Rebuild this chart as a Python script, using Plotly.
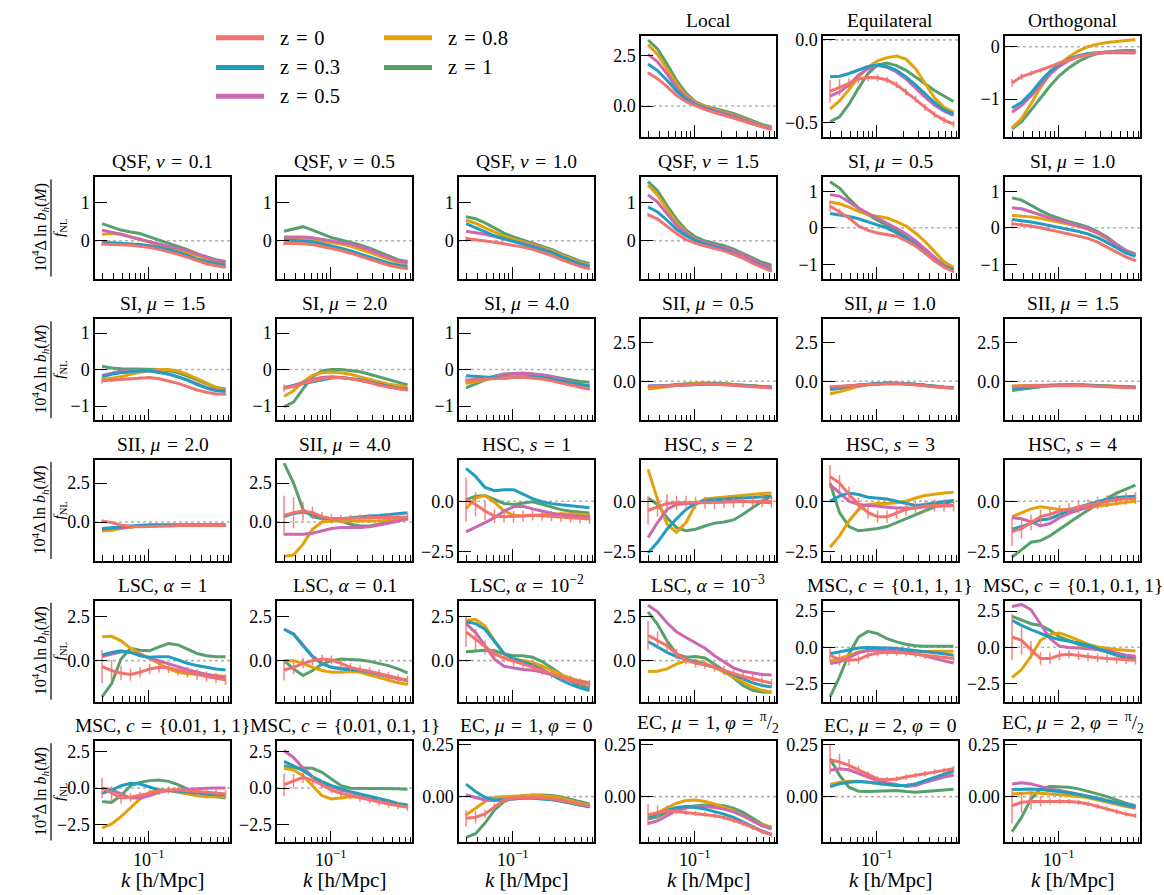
import plotly.graph_objects as go

W, H = 1164, 895
FONT = "Liberation Serif"
EQ = "\u2004=\u2004"

# ---------------- data ----------------
K = [0.0295, 0.0378, 0.0484, 0.0620, 0.0795, 0.1019, 0.1305, 0.1672,
     0.2143, 0.2746, 0.3518, 0.4508, 0.5776, 0.7401]

Z_LABELS = ["z = 0", "z = 0.3", "z = 0.5", "z = 0.8", "z = 1"]
Z_COLORS = ["#F2726D", "#1F9EC0", "#CC67B1", "#E3A20A", "#56A06C"]

X_MINOR = [0.03, 0.04, 0.05, 0.06, 0.07, 0.08, 0.09, 0.2, 0.3, 0.4, 0.5, 0.6, 0.7, 0.8]

# each panel: series for z = 0, 0.3, 0.5, 0.8, 1 ; plus error bars on z = 0
LOCAL = [
    [1.64, 1.35, 0.96, 0.53, 0.21, 0.00, -0.18, -0.32, -0.46, -0.61, -0.75, -0.91, -1.05, -1.16],
    [2.07, 1.75, 1.27, 0.75, 0.33, 0.05, -0.13, -0.27, -0.41, -0.56, -0.72, -0.88, -1.03, -1.15],
    [2.55, 2.18, 1.59, 0.91, 0.43, 0.11, -0.08, -0.21, -0.35, -0.49, -0.67, -0.83, -0.99, -1.11],
    [3.03, 2.55, 1.83, 1.08, 0.53, 0.16, -0.03, -0.18, -0.30, -0.45, -0.64, -0.80, -0.97, -1.08],
    [3.26, 2.82, 2.07, 1.27, 0.64, 0.21, 0.00, -0.11, -0.24, -0.37, -0.56, -0.72, -0.91, -1.03]]
LOCAL_ERR = [0.04, 0.03, 0.03, 0.02, 0.02, 0.02, 0.02, 0.02, 0.02, 0.02, 0.02, 0.02, 0.02, 0.02]

EQUIL = [
    [-0.310, -0.287, -0.262, -0.236, -0.227, -0.229, -0.242, -0.271, -0.314, -0.359, -0.407, -0.450, -0.484, -0.508],
    [-0.223, -0.219, -0.203, -0.180, -0.161, -0.151, -0.161, -0.184, -0.223, -0.271, -0.326, -0.378, -0.422, -0.446],
    [-0.339, -0.314, -0.271, -0.213, -0.174, -0.155, -0.165, -0.194, -0.236, -0.291, -0.345, -0.393, -0.430, -0.455],
    [-0.417, -0.368, -0.300, -0.223, -0.165, -0.126, -0.107, -0.097, -0.116, -0.174, -0.262, -0.349, -0.407, -0.436],
    [-0.494, -0.465, -0.388, -0.291, -0.203, -0.151, -0.140, -0.155, -0.184, -0.223, -0.267, -0.306, -0.339, -0.372]]
EQUIL_ERR = [0.068, 0.050, 0.030, 0.025, 0.022, 0.020, 0.020, 0.020, 0.020, 0.020, 0.020, 0.020, 0.020, 0.020]

ORTHO = [
    [-0.69, -0.57, -0.51, -0.45, -0.38, -0.31, -0.25, -0.19, -0.15, -0.12, -0.10, -0.10, -0.10, -0.10],
    [-1.17, -1.06, -0.88, -0.66, -0.47, -0.33, -0.23, -0.17, -0.13, -0.11, -0.10, -0.10, -0.10, -0.10],
    [-1.25, -1.12, -0.94, -0.72, -0.52, -0.37, -0.26, -0.19, -0.15, -0.12, -0.11, -0.11, -0.11, -0.12],
    [-1.55, -1.37, -1.09, -0.78, -0.52, -0.33, -0.19, -0.08, 0.00, 0.05, 0.08, 0.10, 0.12, 0.14],
    [-1.57, -1.43, -1.21, -0.98, -0.75, -0.55, -0.40, -0.28, -0.19, -0.13, -0.10, -0.08, -0.07, -0.07]]
ORTHO_ERR = [0.08, 0.06, 0.05, 0.04, 0.035, 0.03, 0.03, 0.03, 0.02, 0.02, 0.02, 0.02, 0.02, 0.02]

QSF01 = [
    [-0.09, -0.10, -0.10, -0.12, -0.15, -0.18, -0.23, -0.29, -0.36, -0.44, -0.53, -0.61, -0.66, -0.70],
    [-0.04, -0.05, -0.06, -0.08, -0.10, -0.13, -0.17, -0.23, -0.30, -0.39, -0.48, -0.55, -0.61, -0.65],
    [0.28, 0.23, 0.17, 0.10, 0.04, -0.03, -0.09, -0.14, -0.20, -0.27, -0.35, -0.43, -0.52, -0.57],
    [0.17, 0.19, 0.17, 0.10, 0.04, -0.03, -0.09, -0.16, -0.23, -0.30, -0.39, -0.48, -0.57, -0.62],
    [0.45, 0.37, 0.28, 0.23, 0.19, 0.10, 0.02, -0.07, -0.16, -0.24, -0.35, -0.43, -0.50, -0.55]]
QSF01_ERR = [0.05, 0.04, 0.03, 0.03, 0.02, 0.02, 0.02, 0.02, 0.02, 0.02, 0.02, 0.02, 0.02, 0.02]

QSF05 = [
    [-0.07, -0.07, -0.08, -0.10, -0.15, -0.20, -0.26, -0.33, -0.41, -0.50, -0.58, -0.65, -0.70, -0.74],
    [0.02, 0.01, -0.01, -0.03, -0.08, -0.13, -0.20, -0.27, -0.35, -0.43, -0.52, -0.59, -0.65, -0.68],
    [0.10, 0.10, 0.10, 0.08, 0.04, 0.00, -0.04, -0.09, -0.16, -0.24, -0.35, -0.44, -0.53, -0.57],
    [0.04, 0.04, 0.03, 0.02, -0.01, -0.04, -0.09, -0.14, -0.22, -0.30, -0.40, -0.49, -0.57, -0.62],
    [0.25, 0.32, 0.37, 0.28, 0.17, 0.08, 0.02, -0.04, -0.11, -0.20, -0.30, -0.42, -0.50, -0.55]]
QSF05_ERR = [0.05, 0.04, 0.03, 0.03, 0.02, 0.02, 0.02, 0.02, 0.02, 0.02, 0.02, 0.02, 0.02, 0.02]

QSF10 = [
    [0.06, 0.03, 0.00, -0.04, -0.08, -0.12, -0.17, -0.23, -0.30, -0.39, -0.50, -0.60, -0.68, -0.74],
    [0.45, 0.34, 0.23, 0.13, 0.05, -0.02, -0.08, -0.15, -0.22, -0.31, -0.42, -0.53, -0.62, -0.68],
    [0.25, 0.22, 0.17, 0.11, 0.05, 0.00, -0.06, -0.13, -0.21, -0.30, -0.41, -0.52, -0.61, -0.67],
    [0.54, 0.46, 0.34, 0.22, 0.12, 0.04, -0.03, -0.10, -0.18, -0.27, -0.38, -0.49, -0.58, -0.64],
    [0.63, 0.58, 0.47, 0.33, 0.20, 0.10, 0.02, -0.06, -0.14, -0.23, -0.34, -0.45, -0.54, -0.60]]
QSF10_ERR = [0.05, 0.04, 0.03, 0.03, 0.02, 0.02, 0.02, 0.02, 0.02, 0.02, 0.02, 0.02, 0.02, 0.02]

QSF15 = [
    [0.69, 0.57, 0.38, 0.19, 0.03, -0.07, -0.14, -0.20, -0.27, -0.36, -0.46, -0.59, -0.70, -0.81],
    [0.89, 0.76, 0.54, 0.30, 0.13, 0.00, -0.09, -0.16, -0.24, -0.35, -0.46, -0.57, -0.69, -0.79],
    [1.21, 1.02, 0.71, 0.41, 0.19, 0.03, -0.05, -0.11, -0.18, -0.27, -0.37, -0.50, -0.62, -0.70],
    [1.47, 1.21, 0.83, 0.48, 0.22, 0.04, -0.05, -0.13, -0.22, -0.33, -0.44, -0.57, -0.68, -0.77],
    [1.56, 1.32, 0.93, 0.57, 0.28, 0.10, -0.01, -0.07, -0.13, -0.22, -0.33, -0.46, -0.57, -0.65]]
QSF15_ERR = [0.05, 0.04, 0.03, 0.03, 0.02, 0.02, 0.02, 0.02, 0.02, 0.02, 0.02, 0.02, 0.02, 0.02]

SI05 = [
    [0.60, 0.43, 0.27, 0.05, -0.07, -0.14, -0.19, -0.23, -0.35, -0.50, -0.69, -0.90, -1.08, -1.20],
    [0.39, 0.36, 0.31, 0.25, 0.17, 0.09, -0.01, -0.14, -0.28, -0.47, -0.69, -0.90, -1.06, -1.15],
    [0.91, 0.87, 0.71, 0.54, 0.40, 0.27, 0.14, -0.01, -0.17, -0.35, -0.58, -0.81, -1.04, -1.15],
    [0.71, 0.66, 0.57, 0.45, 0.36, 0.31, 0.27, 0.17, 0.05, -0.14, -0.38, -0.65, -0.93, -1.08],
    [1.26, 1.09, 0.80, 0.54, 0.36, 0.20, 0.06, -0.07, -0.23, -0.41, -0.62, -0.83, -1.02, -1.11]]
SI05_ERR = [0.15, 0.10, 0.06, 0.05, 0.04, 0.04, 0.04, 0.04, 0.04, 0.04, 0.04, 0.04, 0.04, 0.04]

SI10 = [
    [0.11, 0.09, 0.05, 0.00, -0.06, -0.11, -0.16, -0.22, -0.29, -0.39, -0.52, -0.67, -0.80, -0.90],
    [0.23, 0.20, 0.16, 0.11, 0.06, 0.01, -0.04, -0.10, -0.17, -0.27, -0.40, -0.55, -0.69, -0.78],
    [0.55, 0.52, 0.44, 0.35, 0.27, 0.20, 0.13, 0.06, -0.02, -0.13, -0.28, -0.46, -0.63, -0.74],
    [0.34, 0.33, 0.30, 0.26, 0.21, 0.16, 0.10, 0.04, -0.04, -0.15, -0.30, -0.48, -0.64, -0.75],
    [0.82, 0.76, 0.62, 0.47, 0.35, 0.25, 0.17, 0.10, 0.02, -0.10, -0.25, -0.45, -0.62, -0.72]]
SI10_ERR = [0.10, 0.07, 0.05, 0.04, 0.03, 0.03, 0.03, 0.03, 0.03, 0.03, 0.03, 0.03, 0.03, 0.03]

SI15 = [
    [-0.31, -0.29, -0.27, -0.24, -0.22, -0.22, -0.25, -0.31, -0.38, -0.47, -0.56, -0.62, -0.67, -0.68],
    [-0.20, -0.13, -0.09, -0.06, -0.04, -0.04, -0.07, -0.12, -0.20, -0.29, -0.41, -0.51, -0.58, -0.60],
    [-0.16, -0.09, -0.04, -0.02, -0.02, -0.03, -0.06, -0.12, -0.20, -0.29, -0.40, -0.49, -0.56, -0.58],
    [-0.28, -0.25, -0.20, -0.13, -0.07, -0.03, 0.00, 0.00, -0.04, -0.13, -0.25, -0.38, -0.49, -0.55],
    [0.09, 0.04, 0.02, 0.02, 0.02, 0.02, 0.00, -0.03, -0.09, -0.18, -0.28, -0.40, -0.49, -0.53]]
SI15_ERR = [0.08, 0.05, 0.04, 0.03, 0.03, 0.03, 0.03, 0.03, 0.03, 0.03, 0.03, 0.03, 0.03, 0.03]

SI20 = [
    [-0.51, -0.46, -0.38, -0.31, -0.25, -0.22, -0.22, -0.25, -0.29, -0.35, -0.43, -0.49, -0.53, -0.56],
    [-0.49, -0.44, -0.38, -0.33, -0.27, -0.23, -0.22, -0.24, -0.28, -0.34, -0.40, -0.46, -0.52, -0.53],
    [-0.52, -0.44, -0.34, -0.27, -0.22, -0.20, -0.22, -0.25, -0.29, -0.35, -0.42, -0.47, -0.51, -0.55],
    [-0.73, -0.58, -0.34, -0.16, -0.09, -0.07, -0.09, -0.13, -0.20, -0.27, -0.34, -0.40, -0.44, -0.47],
    [-1.02, -0.89, -0.53, -0.20, -0.04, 0.00, 0.00, -0.02, -0.06, -0.13, -0.20, -0.28, -0.36, -0.42]]
SI20_ERR = [0.10, 0.06, 0.04, 0.03, 0.03, 0.03, 0.03, 0.03, 0.03, 0.03, 0.03, 0.03, 0.03, 0.03]

SI40 = [
    [-0.30, -0.28, -0.26, -0.24, -0.22, -0.21, -0.21, -0.23, -0.26, -0.31, -0.37, -0.44, -0.50, -0.54],
    [-0.17, -0.19, -0.22, -0.24, -0.24, -0.22, -0.20, -0.20, -0.22, -0.26, -0.31, -0.37, -0.42, -0.45],
    [-0.30, -0.28, -0.24, -0.19, -0.14, -0.11, -0.10, -0.11, -0.14, -0.19, -0.26, -0.34, -0.41, -0.45],
    [-0.38, -0.34, -0.28, -0.22, -0.17, -0.14, -0.13, -0.14, -0.17, -0.22, -0.29, -0.37, -0.43, -0.47],
    [-0.50, -0.40, -0.28, -0.18, -0.12, -0.10, -0.10, -0.12, -0.15, -0.19, -0.24, -0.29, -0.33, -0.35]]
SI40_ERR = [0.10, 0.07, 0.05, 0.04, 0.03, 0.03, 0.03, 0.03, 0.03, 0.03, 0.03, 0.03, 0.03, 0.03]

SII05 = [
    [-0.35, -0.32, -0.28, -0.24, -0.21, -0.19, -0.18, -0.19, -0.21, -0.25, -0.30, -0.35, -0.40, -0.43],
    [-0.32, -0.30, -0.27, -0.23, -0.20, -0.18, -0.17, -0.18, -0.20, -0.24, -0.28, -0.32, -0.36, -0.38],
    [-0.30, -0.28, -0.25, -0.22, -0.19, -0.17, -0.16, -0.17, -0.19, -0.23, -0.27, -0.32, -0.36, -0.38],
    [-0.50, -0.42, -0.33, -0.25, -0.19, -0.16, -0.15, -0.15, -0.17, -0.20, -0.25, -0.30, -0.34, -0.37],
    [-0.40, -0.35, -0.28, -0.20, -0.15, -0.12, -0.11, -0.12, -0.15, -0.20, -0.26, -0.31, -0.35, -0.37]]
SII05_ERR = [0.06, 0.05, 0.04, 0.03, 0.03, 0.03, 0.03, 0.03, 0.03, 0.03, 0.03, 0.03, 0.03, 0.03]

SII10 = [
    [-0.35, -0.33, -0.29, -0.25, -0.21, -0.18, -0.16, -0.16, -0.18, -0.22, -0.28, -0.35, -0.41, -0.45],
    [-0.40, -0.36, -0.30, -0.24, -0.19, -0.15, -0.12, -0.12, -0.14, -0.19, -0.26, -0.33, -0.39, -0.42],
    [-0.42, -0.38, -0.32, -0.26, -0.20, -0.16, -0.13, -0.13, -0.15, -0.20, -0.27, -0.34, -0.40, -0.43],
    [-0.80, -0.68, -0.50, -0.33, -0.22, -0.15, -0.12, -0.12, -0.15, -0.20, -0.27, -0.33, -0.38, -0.40],
    [-0.55, -0.48, -0.38, -0.27, -0.19, -0.14, -0.11, -0.11, -0.14, -0.19, -0.26, -0.32, -0.37, -0.40]]
SII10_ERR = [0.06, 0.05, 0.04, 0.03, 0.03, 0.03, 0.03, 0.03, 0.03, 0.03, 0.03, 0.03, 0.03, 0.03]

SII15 = [
    [-0.33, -0.32, -0.30, -0.28, -0.27, -0.26, -0.26, -0.27, -0.29, -0.32, -0.35, -0.38, -0.41, -0.43],
    [-0.45, -0.42, -0.37, -0.32, -0.28, -0.25, -0.24, -0.24, -0.26, -0.29, -0.32, -0.35, -0.37, -0.38],
    [-0.35, -0.33, -0.30, -0.27, -0.25, -0.24, -0.23, -0.24, -0.26, -0.29, -0.33, -0.36, -0.39, -0.40],
    [-0.30, -0.28, -0.26, -0.24, -0.23, -0.22, -0.22, -0.23, -0.25, -0.28, -0.31, -0.34, -0.36, -0.37],
    [-0.60, -0.52, -0.42, -0.33, -0.27, -0.24, -0.23, -0.24, -0.26, -0.29, -0.32, -0.35, -0.37, -0.38]]
SII15_ERR = [0.06, 0.05, 0.04, 0.03, 0.03, 0.03, 0.03, 0.03, 0.03, 0.03, 0.03, 0.03, 0.03, 0.03]

SII20 = [
    [0.06, -0.04, -0.19, -0.28, -0.30, -0.30, -0.28, -0.26, -0.23, -0.23, -0.23, -0.23, -0.23, -0.23],
    [-0.42, -0.36, -0.30, -0.25, -0.21, -0.19, -0.19, -0.19, -0.19, -0.19, -0.20, -0.20, -0.21, -0.21],
    [-0.47, -0.42, -0.34, -0.28, -0.24, -0.21, -0.21, -0.21, -0.21, -0.21, -0.21, -0.21, -0.21, -0.21],
    [-0.57, -0.53, -0.42, -0.32, -0.25, -0.21, -0.19, -0.19, -0.19, -0.19, -0.21, -0.21, -0.21, -0.21],
    [-0.51, -0.47, -0.38, -0.30, -0.25, -0.21, -0.19, -0.17, -0.17, -0.17, -0.17, -0.17, -0.17, -0.17]]
SII20_ERR = [0.10, 0.06, 0.04, 0.03, 0.03, 0.03, 0.03, 0.03, 0.03, 0.03, 0.03, 0.03, 0.03, 0.03]

SII40 = [
    [0.42, 0.59, 0.70, 0.59, 0.34, 0.21, 0.21, 0.21, 0.25, 0.28, 0.28, 0.28, 0.30, 0.32],
    [0.34, 0.55, 0.64, 0.49, 0.28, 0.21, 0.21, 0.28, 0.32, 0.38, 0.42, 0.49, 0.55, 0.59],
    [-0.78, -0.78, -0.78, -0.72, -0.57, -0.42, -0.36, -0.36, -0.36, -0.30, -0.21, -0.08, 0.06, 0.21],
    [-2.20, -2.12, -1.42, -0.47, 0.00, 0.06, 0.06, 0.06, 0.06, 0.06, 0.06, 0.13, 0.21, 0.28],
    [3.77, 2.50, 0.81, 0.34, 0.21, 0.17, 0.06, -0.15, -0.25, -0.25, -0.15, 0.00, 0.17, 0.28]]
SII40_ERR = [1.27, 1.00, 0.60, 0.40, 0.30, 0.30, 0.25, 0.25, 0.25, 0.25, 0.25, 0.25, 0.25, 0.25]

HSC1 = [
    [0.08, -0.16, -0.49, -0.74, -0.77, -0.77, -0.74, -0.70, -0.72, -0.74, -0.78, -0.82, -0.85, -0.88],
    [1.63, 1.23, 0.68, 0.52, 0.57, 0.57, 0.35, 0.13, -0.02, -0.12, -0.18, -0.22, -0.27, -0.32],
    [-1.52, -1.31, -1.06, -0.82, -0.49, -0.28, -0.25, -0.38, -0.50, -0.60, -0.68, -0.72, -0.75, -0.78],
    [-0.38, 0.16, 0.28, -0.05, -0.49, -0.70, -0.74, -0.70, -0.68, -0.65, -0.62, -0.62, -0.65, -0.70],
    [0.08, 0.25, 0.28, 0.08, -0.11, -0.16, -0.11, -0.03, -0.15, -0.30, -0.42, -0.50, -0.55, -0.58]]
HSC1_ERR = [1.10, 0.60, 0.45, 0.35, 0.30, 0.30, 0.28, 0.25, 0.25, 0.25, 0.25, 0.25, 0.25, 0.25]

HSC2 = [
    [-0.46, -0.28, -0.11, -0.08, -0.08, -0.08, -0.08, -0.08, -0.05, -0.03, 0.00, 0.00, 0.00, -0.02],
    [-2.57, -2.04, -1.39, -0.87, -0.41, -0.11, 0.03, 0.08, 0.11, 0.15, 0.16, 0.18, 0.21, 0.25],
    [-1.80, -1.06, -0.41, -0.16, -0.11, -0.08, -0.05, -0.02, 0.00, 0.01, 0.00, -0.02, -0.05, -0.08],
    [1.58, 0.08, -1.14, -1.55, -1.06, -0.16, 0.11, 0.16, 0.21, 0.25, 0.29, 0.33, 0.38, 0.41],
    [0.16, -0.16, -0.82, -1.31, -1.47, -1.39, -1.23, -1.09, -1.03, -0.93, -0.65, -0.33, 0.00, 0.25]]
HSC2_ERR = [0.70, 0.50, 0.45, 0.35, 0.35, 0.30, 0.30, 0.30, 0.30, 0.30, 0.30, 0.30, 0.30, 0.30]

HSC3 = [
    [1.23, 0.90, 0.33, -0.16, -0.57, -0.77, -0.77, -0.57, -0.41, -0.33, -0.25, -0.21, -0.21, -0.21],
    [0.00, 0.25, 0.41, 0.33, 0.20, 0.16, 0.11, 0.00, -0.11, -0.21, -0.16, -0.08, -0.02, 0.03],
    [0.82, 0.41, 0.00, -0.16, -0.21, -0.25, -0.29, -0.34, -0.34, -0.33, -0.28, -0.25, -0.21, -0.21],
    [-2.29, -1.72, -0.98, -0.41, -0.16, -0.11, -0.11, -0.08, 0.00, 0.16, 0.28, 0.36, 0.41, 0.44],
    [0.90, -0.57, -1.26, -1.47, -1.42, -1.36, -1.26, -1.06, -0.87, -0.65, -0.44, -0.28, -0.11, 0.00]]
HSC3_ERR = [0.57, 0.40, 0.40, 0.35, 0.30, 0.30, 0.30, 0.30, 0.30, 0.30, 0.30, 0.30, 0.30, 0.30]

HSC4 = [
    [-1.52, -1.36, -1.06, -0.77, -0.65, -0.49, -0.40, -0.30, -0.20, -0.10, 0.00, 0.08, 0.12, 0.15],
    [-1.39, -1.26, -1.09, -0.93, -0.87, -0.65, -0.45, -0.30, -0.15, -0.02, 0.10, 0.18, 0.22, 0.25],
    [-0.82, -0.87, -1.03, -1.23, -1.11, -0.82, -0.60, -0.45, -0.30, -0.15, 0.00, 0.10, 0.15, 0.18],
    [-0.77, -0.57, -0.38, -0.28, -0.33, -0.41, -0.42, -0.38, -0.32, -0.25, -0.18, -0.10, -0.05, 0.00],
    [-2.78, -2.40, -2.04, -1.96, -1.72, -1.39, -1.05, -0.75, -0.45, -0.15, 0.15, 0.40, 0.60, 0.80]]
HSC4_ERR = [0.70, 0.50, 0.40, 0.35, 0.30, 0.30, 0.30, 0.30, 0.30, 0.30, 0.30, 0.30, 0.30, 0.30]

LSC1 = [
    [-0.34, -0.56, -0.71, -0.79, -0.66, -0.47, -0.38, -0.41, -0.53, -0.66, -0.79, -0.90, -1.00, -1.09],
    [0.32, 0.47, 0.56, 0.47, 0.28, 0.19, 0.23, 0.23, 0.04, -0.15, -0.28, -0.38, -0.47, -0.53],
    [0.23, 0.38, 0.51, 0.47, 0.34, 0.15, 0.00, -0.15, -0.34, -0.51, -0.66, -0.79, -0.90, -0.98],
    [1.37, 1.39, 1.13, 0.71, 0.41, 0.15, -0.15, -0.47, -0.66, -0.75, -0.75, -0.79, -0.85, -0.90],
    [-2.07, -1.32, 0.09, 0.70, 0.60, 0.56, 0.79, 0.98, 0.90, 0.66, 0.41, 0.28, 0.23, 0.23]]
LSC1_ERR = [0.95, 0.60, 0.40, 0.35, 0.30, 0.30, 0.30, 0.30, 0.30, 0.30, 0.30, 0.30, 0.30, 0.30]

LSC01 = [
    [-0.53, -0.38, -0.15, 0.00, 0.09, 0.04, -0.15, -0.38, -0.51, -0.62, -0.75, -0.90, -1.03, -1.13],
    [1.79, 1.50, 0.85, 0.23, -0.19, -0.38, -0.47, -0.51, -0.56, -0.66, -0.79, -0.90, -1.03, -1.13],
    [1.79, 1.54, 0.90, 0.26, -0.15, -0.38, -0.43, -0.47, -0.53, -0.62, -0.75, -0.90, -1.03, -1.13],
    [0.00, 0.00, -0.15, -0.38, -0.56, -0.66, -0.66, -0.62, -0.66, -0.81, -0.98, -1.13, -1.26, -1.35],
    [0.00, -0.47, -0.85, -0.56, -0.19, 0.00, 0.09, 0.08, 0.04, -0.04, -0.15, -0.28, -0.47, -0.70]]
LSC01_ERR = [0.60, 0.40, 0.30, 0.25, 0.25, 0.25, 0.25, 0.25, 0.25, 0.25, 0.25, 0.25, 0.25, 0.25]

LSC2 = [
    [1.64, 1.22, 0.75, 0.38, 0.15, -0.04, -0.20, -0.35, -0.55, -0.75, -0.95, -1.10, -1.25, -1.35],
    [2.22, 2.11, 1.79, 1.13, 0.41, 0.13, -0.05, -0.25, -0.50, -0.80, -1.10, -1.35, -1.55, -1.70],
    [2.11, 1.60, 0.85, 0.09, -0.32, -0.43, -0.50, -0.55, -0.65, -0.80, -0.95, -1.10, -1.20, -1.30],
    [2.29, 2.35, 1.97, 1.13, 0.38, 0.09, 0.00, -0.10, -0.30, -0.55, -0.80, -1.00, -1.15, -1.25],
    [0.51, 0.56, 0.60, 0.56, 0.38, 0.28, 0.28, 0.20, -0.05, -0.40, -0.80, -1.15, -1.40, -1.55]]
LSC2_ERR = [0.85, 0.60, 0.40, 0.30, 0.25, 0.25, 0.25, 0.25, 0.25, 0.25, 0.25, 0.25, 0.25, 0.25]

LSC3 = [
    [1.45, 1.17, 0.85, 0.38, 0.04, -0.15, -0.23, -0.38, -0.56, -0.75, -0.90, -1.03, -1.17, -1.28],
    [1.09, 0.79, 0.47, 0.23, 0.09, -0.09, -0.23, -0.38, -0.56, -0.79, -1.03, -1.26, -1.41, -1.50],
    [3.16, 2.78, 2.16, 1.64, 1.32, 1.03, 0.71, 0.28, -0.09, -0.41, -0.60, -0.71, -0.79, -0.81],
    [-0.62, -0.60, -0.47, -0.19, 0.00, 0.00, -0.15, -0.38, -0.66, -0.94, -1.26, -1.50, -1.69, -1.79],
    [2.78, 2.07, 1.13, 0.38, 0.19, 0.23, 0.15, -0.19, -0.56, -0.98, -1.41, -1.69, -1.79, -1.80]]
LSC3_ERR = [0.82, 0.50, 0.35, 0.30, 0.25, 0.25, 0.25, 0.25, 0.25, 0.25, 0.25, 0.25, 0.25, 0.25]

MSC_A = [
    [-0.55, -0.85, -0.89, -0.85, -0.55, -0.39, -0.34, -0.34, -0.39, -0.48, -0.55, -0.62, -0.71, -0.78],
    [-0.44, -0.32, -0.16, -0.05, -0.02, -0.02, -0.05, -0.09, -0.16, -0.21, -0.28, -0.34, -0.44, -0.55],
    [-1.12, -1.01, -0.71, -0.39, -0.21, -0.16, -0.21, -0.25, -0.32, -0.44, -0.62, -0.78, -0.94, -1.08],
    [-0.94, -0.78, -0.55, -0.32, -0.21, -0.25, -0.32, -0.32, -0.30, -0.28, -0.28, -0.28, -0.28, -0.28],
    [-3.42, -2.04, -0.44, 0.71, 1.10, 0.94, 0.60, 0.37, 0.21, 0.11, 0.07, 0.07, 0.07, 0.07]]
MSC_A_ERR = [0.46, 0.40, 0.35, 0.30, 0.25, 0.25, 0.25, 0.25, 0.25, 0.25, 0.25, 0.25, 0.25, 0.25]

MSC_B = [
    [0.71, 0.48, -0.16, -0.78, -0.78, -0.55, -0.48, -0.57, -0.67, -0.73, -0.78, -0.83, -0.85, -0.89],
    [1.86, 1.51, 1.22, 0.94, 0.71, 0.53, 0.44, 0.30, 0.14, -0.09, -0.32, -0.55, -0.71, -0.85],
    [2.82, 2.96, 2.59, 1.63, 0.60, 0.07, -0.02, -0.05, -0.09, -0.14, -0.21, -0.39, -0.55, -0.62],
    [-2.09, -1.54, -0.62, 0.48, 0.89, 0.99, 0.76, 0.48, 0.21, 0.02, -0.09, -0.16, -0.21, -0.25],
    [2.13, 1.86, 1.63, 1.51, 1.17, 0.71, 0.44, 0.21, 0.02, -0.16, -0.32, -0.48, -0.62, -0.71]]
MSC_B_ERR = [1.60, 1.00, 0.60, 0.45, 0.40, 0.35, 0.30, 0.30, 0.30, 0.30, 0.30, 0.30, 0.30, 0.30]

MSC_C = [
    [0.00, -0.37, -0.69, -0.64, -0.53, -0.37, -0.23, -0.14, -0.14, -0.18, -0.23, -0.30, -0.35, -0.41],
    [-0.37, -0.14, 0.16, 0.32, 0.28, 0.05, -0.14, -0.18, -0.23, -0.30, -0.37, -0.41, -0.46, -0.46],
    [0.00, -0.14, -0.41, -0.69, -0.69, -0.53, -0.30, -0.18, -0.14, -0.09, -0.05, -0.02, 0.00, 0.00],
    [-2.76, -2.48, -1.98, -1.38, -0.76, -0.30, -0.14, -0.18, -0.30, -0.41, -0.53, -0.60, -0.60, -0.60],
    [-0.94, -0.99, -0.53, 0.16, 0.39, 0.51, 0.55, 0.46, 0.23, -0.07, -0.30, -0.46, -0.60, -0.69]]
MSC_C_ERR = [0.70, 0.50, 0.40, 0.30, 0.25, 0.25, 0.25, 0.25, 0.25, 0.25, 0.25, 0.25, 0.25, 0.25]

MSC_D = [
    [0.23, 0.46, 0.74, 0.55, 0.23, -0.14, -0.37, -0.53, -0.69, -0.83, -0.97, -1.10, -1.22, -1.33],
    [1.84, 1.54, 1.20, 0.78, 0.44, 0.16, -0.07, -0.25, -0.41, -0.55, -0.69, -0.87, -1.06, -1.17],
    [2.57, 2.11, 1.38, 0.78, 0.39, 0.09, -0.14, -0.30, -0.46, -0.64, -0.83, -0.99, -1.10, -1.22],
    [1.36, 1.24, 0.85, 0.16, -0.53, -0.76, -0.69, -0.60, -0.64, -0.76, -0.92, -1.06, -1.17, -1.29],
    [1.54, 1.38, 1.38, 1.36, 1.08, 0.62, 0.16, -0.02, -0.02, -0.02, -0.02, -0.05, -0.05, -0.09]]
MSC_D_ERR = [0.78, 0.50, 0.40, 0.30, 0.25, 0.25, 0.25, 0.25, 0.25, 0.25, 0.25, 0.25, 0.25, 0.25]

EC_A = [
    [-0.104, -0.099, -0.083, -0.048, -0.016, -0.006, -0.004, -0.004, -0.006, -0.010, -0.018, -0.028, -0.038, -0.045],
    [0.060, 0.024, -0.003, -0.016, -0.014, -0.010, -0.008, -0.008, -0.010, -0.015, -0.022, -0.032, -0.042, -0.050],
    [0.008, -0.003, -0.016, -0.019, -0.015, -0.010, -0.007, -0.006, -0.008, -0.013, -0.020, -0.030, -0.040, -0.048],
    [-0.088, -0.056, -0.024, -0.003, 0.000, 0.003, 0.005, 0.006, 0.004, 0.000, -0.008, -0.020, -0.032, -0.040],
    [-0.196, -0.178, -0.127, -0.064, -0.024, -0.005, 0.004, 0.008, 0.008, 0.005, -0.002, -0.012, -0.025, -0.035]]
EC_A_ERR = [0.040, 0.030, 0.020, 0.015, 0.012, 0.010, 0.010, 0.010, 0.010, 0.010, 0.010, 0.010, 0.010, 0.010]

EC_B = [
    [-0.087, -0.076, -0.068, -0.071, -0.076, -0.081, -0.084, -0.092, -0.100, -0.113, -0.129, -0.148, -0.168, -0.184],
    [-0.097, -0.084, -0.065, -0.052, -0.048, -0.052, -0.060, -0.071, -0.084, -0.100, -0.121, -0.145, -0.165, -0.181],
    [-0.129, -0.116, -0.092, -0.068, -0.055, -0.048, -0.048, -0.052, -0.060, -0.073, -0.092, -0.116, -0.140, -0.156],
    [-0.100, -0.076, -0.052, -0.032, -0.019, -0.016, -0.023, -0.035, -0.052, -0.068, -0.092, -0.116, -0.135, -0.148],
    [-0.108, -0.097, -0.076, -0.060, -0.048, -0.044, -0.040, -0.040, -0.044, -0.055, -0.076, -0.103, -0.132, -0.148]]
EC_B_ERR = [0.050, 0.035, 0.025, 0.015, 0.012, 0.012, 0.012, 0.012, 0.012, 0.012, 0.012, 0.012, 0.012, 0.012]

EC_C = [
    [0.177, 0.166, 0.150, 0.129, 0.106, 0.085, 0.081, 0.085, 0.094, 0.102, 0.110, 0.118, 0.126, 0.134],
    [0.048, 0.061, 0.069, 0.073, 0.069, 0.065, 0.058, 0.053, 0.053, 0.061, 0.077, 0.094, 0.110, 0.123],
    [0.126, 0.134, 0.129, 0.113, 0.094, 0.077, 0.065, 0.058, 0.048, 0.053, 0.069, 0.081, 0.094, 0.102],
    [0.058, 0.069, 0.074, 0.074, 0.069, 0.065, 0.058, 0.053, 0.053, 0.061, 0.074, 0.085, 0.097, 0.106],
    [0.182, 0.102, 0.045, 0.026, 0.024, 0.026, 0.029, 0.029, 0.024, 0.021, 0.024, 0.029, 0.032, 0.035]]
EC_C_ERR = [0.070, 0.040, 0.030, 0.020, 0.015, 0.013, 0.013, 0.013, 0.013, 0.013, 0.013, 0.013, 0.013, 0.013]

EC_D = [
    [-0.044, -0.027, -0.023, -0.023, -0.023, -0.023, -0.023, -0.027, -0.035, -0.047, -0.060, -0.073, -0.084, -0.092],
    [0.034, 0.037, 0.037, 0.034, 0.029, 0.024, 0.018, 0.010, 0.000, -0.011, -0.023, -0.032, -0.040, -0.047],
    [0.061, 0.066, 0.061, 0.048, 0.037, 0.029, 0.021, 0.013, 0.005, -0.006, -0.019, -0.032, -0.044, -0.055],
    [0.013, 0.016, 0.018, 0.016, 0.013, 0.010, 0.005, 0.000, -0.006, -0.016, -0.027, -0.039, -0.048, -0.056],
    [-0.168, -0.100, -0.011, 0.037, 0.048, 0.048, 0.045, 0.037, 0.026, 0.013, 0.000, -0.016, -0.032, -0.044]]
EC_D_ERR = [0.085, 0.050, 0.040, 0.025, 0.015, 0.012, 0.012, 0.012, 0.012, 0.012, 0.012, 0.012, 0.012, 0.012]

# y-axis settings per family: (range, tick values, tick labels)
Y_LOCAL = ([-1.52, 3.47], [0, 2.5], ["0.0", "2.5"])
Y_EQUIL = ([-0.585, 0.025], [-0.5, 0.0], ["−0.5", "0.0"])
Y_ORTHO = ([-1.72, 0.21], [-1, 0], ["−1", "0"])
Y_QSF = ([-1.0, 1.67], [0, 1], ["0", "1"])
Y_SI = ([-1.39, 1.38], [-1, 0, 1], ["−1", "0", "1"])
Y_SII = ([-2.50, 3.98], [0, 2.5], ["0.0", "2.5"])
Y_HSC = ([-2.97, 2.05], [-2.5, 0], ["−2.5", "0.0"])
Y_LSC = ([-2.34, 3.42], [0, 2.5], ["0.0", "2.5"])
Y_MSC = ([-3.76, 3.22], [-2.5, 0, 2.5], ["−2.5", "0.0", "2.5"])
Y_EC = ([-0.22, 0.265], [0, 0.25], ["0.00", "0.25"])

PANELS = [
    (0, 3, "Local", LOCAL, LOCAL_ERR, Y_LOCAL),
    (0, 4, "Equilateral", EQUIL, EQUIL_ERR, Y_EQUIL),
    (0, 5, "Orthogonal", ORTHO, ORTHO_ERR, Y_ORTHO),
    (1, 0, f"QSF, <i>ν</i>{EQ}0.1", QSF01, QSF01_ERR, Y_QSF),
    (1, 1, f"QSF, <i>ν</i>{EQ}0.5", QSF05, QSF05_ERR, Y_QSF),
    (1, 2, f"QSF, <i>ν</i>{EQ}1.0", QSF10, QSF10_ERR, Y_QSF),
    (1, 3, f"QSF, <i>ν</i>{EQ}1.5", QSF15, QSF15_ERR, Y_QSF),
    (1, 4, f"SI, <i>μ</i>{EQ}0.5", SI05, SI05_ERR, Y_SI),
    (1, 5, f"SI, <i>μ</i>{EQ}1.0", SI10, SI10_ERR, Y_SI),
    (2, 0, f"SI, <i>μ</i>{EQ}1.5", SI15, SI15_ERR, Y_SI),
    (2, 1, f"SI, <i>μ</i>{EQ}2.0", SI20, SI20_ERR, Y_SI),
    (2, 2, f"SI, <i>μ</i>{EQ}4.0", SI40, SI40_ERR, Y_SI),
    (2, 3, f"SII, <i>μ</i>{EQ}0.5", SII05, SII05_ERR, Y_SII),
    (2, 4, f"SII, <i>μ</i>{EQ}1.0", SII10, SII10_ERR, Y_SII),
    (2, 5, f"SII, <i>μ</i>{EQ}1.5", SII15, SII15_ERR, Y_SII),
    (3, 0, f"SII, <i>μ</i>{EQ}2.0", SII20, SII20_ERR, Y_SII),
    (3, 1, f"SII, <i>μ</i>{EQ}4.0", SII40, SII40_ERR, Y_SII),
    (3, 2, f"HSC, <i>s</i>{EQ}1", HSC1, HSC1_ERR, Y_HSC),
    (3, 3, f"HSC, <i>s</i>{EQ}2", HSC2, HSC2_ERR, Y_HSC),
    (3, 4, f"HSC, <i>s</i>{EQ}3", HSC3, HSC3_ERR, Y_HSC),
    (3, 5, f"HSC, <i>s</i>{EQ}4", HSC4, HSC4_ERR, Y_HSC),
    (4, 0, f"LSC, <i>α</i>{EQ}1", LSC1, LSC1_ERR, Y_LSC),
    (4, 1, f"LSC, <i>α</i>{EQ}0.1", LSC01, LSC01_ERR, Y_LSC),
    (4, 2, f"LSC, <i>α</i>{EQ}10<sup>−2</sup>", LSC2, LSC2_ERR, Y_LSC),
    (4, 3, f"LSC, <i>α</i>{EQ}10<sup>−3</sup>", LSC3, LSC3_ERR, Y_LSC),
    (4, 4, f"MSC, <i>c</i>{EQ}{{0.1, 1, 1}}", MSC_A, MSC_A_ERR, Y_MSC),
    (4, 5, f"MSC, <i>c</i>{EQ}{{0.1, 0.1, 1}}", MSC_B, MSC_B_ERR, Y_MSC),
    (5, 0, f"MSC, <i>c</i>{EQ}{{0.01, 1, 1}}", MSC_C, MSC_C_ERR, Y_MSC),
    (5, 1, f"MSC, <i>c</i>{EQ}{{0.01, 0.1, 1}}", MSC_D, MSC_D_ERR, Y_MSC),
    (5, 2, f"EC, <i>μ</i>{EQ}1, <i>φ</i>{EQ}0", EC_A, EC_A_ERR, Y_EC),
    (5, 3, f"EC, <i>μ</i>{EQ}1, <i>φ</i>{EQ}<sup>π</sup>/<sub>2</sub>", EC_B, EC_B_ERR, Y_EC),
    (5, 4, f"EC, <i>μ</i>{EQ}2, <i>φ</i>{EQ}0", EC_C, EC_C_ERR, Y_EC),
    (5, 5, f"EC, <i>μ</i>{EQ}2, <i>φ</i>{EQ}<sup>π</sup>/<sub>2</sub>", EC_D, EC_D_ERR, Y_EC),
]

# ---------------- layout geometry (pixels) ----------------
COL_LEFT = [95, 277, 459, 641, 823, 1005]
PANEL_W = 135
ROW_TOP = [29, 172, 315, 457, 599, 741]
PANEL_H = 102


def px(x):
    return x / W


def py(y):
    return 1 - y / H


fig = go.Figure()
layout = dict(width=W, height=H, margin=dict(l=0, r=0, t=0, b=0),
              paper_bgcolor="white", plot_bgcolor="white", showlegend=False,
              font=dict(family=FONT, size=18, color="black"))
annotations = []
shapes = []

for n, (r, c, title, series, err, ycfg) in enumerate(PANELS, start=1):
    xa = "xaxis" if n == 1 else f"xaxis{n}"
    ya = "yaxis" if n == 1 else f"yaxis{n}"
    xr = "x" if n == 1 else f"x{n}"
    yr = "y" if n == 1 else f"y{n}"
    left, top = COL_LEFT[c], ROW_TOP[r]
    bottom_row = (r == 5)
    layout[xa] = dict(
        domain=[px(left), px(left + PANEL_W)], anchor=yr, type="log",
        range=[-1.61, -0.08], showgrid=False, zeroline=False,
        showline=True, mirror=True, linecolor="black", linewidth=1.5,
        ticks="inside", ticklen=12, tickwidth=1.3, tickcolor="black",
        tickvals=[0.1], ticktext=["10<sup>−1</sup>"], showticklabels=bottom_row,
        tickfont=dict(family=FONT, size=18),
        minor=dict(ticks="inside", tickvals=X_MINOR, ticklen=6, tickwidth=1.1,
                   tickcolor="black", showgrid=False),
    )
    yrange, yvals, ytext = ycfg
    layout[ya] = dict(
        domain=[py(top + PANEL_H), py(top)], anchor=xr, range=yrange,
        showgrid=False, zeroline=False, showline=True, mirror=True,
        linecolor="black", linewidth=1.5, ticks="inside", ticklen=12,
        tickwidth=1.3, tickcolor="black", tickvals=yvals, ticktext=ytext,
        tickfont=dict(family=FONT, size=18),
    )
    # dotted zero line
    shapes.append(dict(type="line", xref=f"{xr} domain", yref=yr, x0=0, x1=1,
                       y0=0, y1=0, layer="below",
                       line=dict(color="#b3b3b3", width=1.6, dash="dot")))
    # curves (z = 1 drawn first, z = 0 last)
    for zi in [4, 3, 2, 1, 0]:
        tr = dict(x=K, y=series[zi], mode="lines", xaxis=xr, yaxis=yr,
                  line=dict(color=Z_COLORS[zi], width=3), name=Z_LABELS[zi],
                  showlegend=False, hoverinfo="skip")
        if zi == 0:
            tr["error_y"] = dict(type="data", array=err, visible=True,
                                 color="rgba(242,114,109,0.85)", thickness=1.5, width=0)
        fig.add_trace(go.Scatter(**tr))
    # subplot title
    annotations.append(dict(text=title, x=px(left + PANEL_W / 2), y=py(top - 3),
                            xref="paper", yref="paper", xanchor="center",
                            yanchor="bottom", showarrow=False,
                            font=dict(family=FONT, size=19.5, color="black")))
    if bottom_row:
        annotations.append(dict(text="<i>k</i> [h/Mpc]", x=px(left + PANEL_W / 2),
                                y=py(H), xref="paper", yref="paper",
                                xanchor="center", yanchor="bottom", showarrow=False,
                                font=dict(family=FONT, size=21, color="black")))

# y-axis label (fraction) for rows 2-6
for r in range(1, 6):
    cy = ROW_TOP[r] + PANEL_H / 2
    annotations.append(dict(text="10<sup>4</sup>Δ ln <i>b<sub>h</sub></i>(<i>M</i>)",
                            x=px(40), y=py(cy), xref="paper", yref="paper",
                            xanchor="center", yanchor="middle", textangle=-90,
                            showarrow=False, font=dict(family=FONT, size=16, color="black")))
    shapes.append(dict(type="line", xref="paper", yref="paper", x0=px(51), x1=px(51),
                       y0=py(cy - 49), y1=py(cy + 49), line=dict(color="black", width=1.2)))
    annotations.append(dict(text="<i>f</i><sub>NL</sub>", x=px(60), y=py(cy),
                            xref="paper", yref="paper", xanchor="center",
                            yanchor="middle", textangle=-90, showarrow=False,
                            font=dict(family=FONT, size=15, color="black")))

# legend (drawn manually, two columns)
LEG_POS = [(216, 31), (216, 61), (216, 90), (384, 31), (384, 61)]
for zi, (lx, ly) in enumerate(LEG_POS):
    shapes.append(dict(type="line", xref="paper", yref="paper", x0=px(lx), x1=px(lx + 48),
                       y0=py(ly), y1=py(ly), line=dict(color=Z_COLORS[zi], width=5)))
    annotations.append(dict(text=Z_LABELS[zi].replace(" = ", EQ), x=px(lx + 62), y=py(ly),
                            xref="paper", yref="paper", xanchor="left", yanchor="middle",
                            showarrow=False, font=dict(family=FONT, size=20.5, color="black")))

layout["annotations"] = annotations
layout["shapes"] = shapes
fig.update_layout(**layout)
fig.write_html("out.html")
